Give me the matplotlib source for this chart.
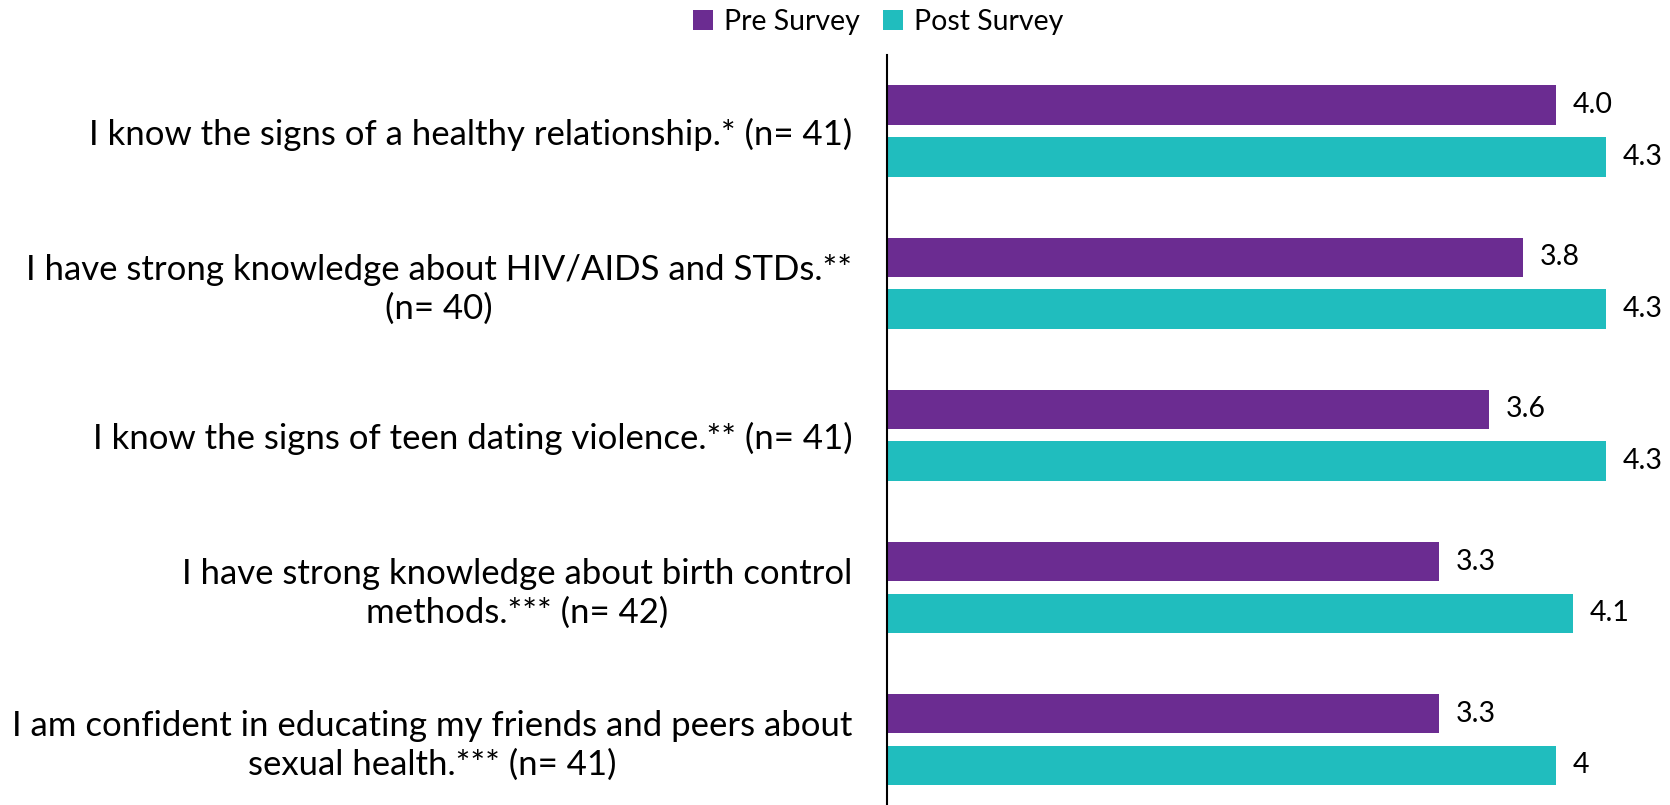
import matplotlib.pyplot as plt
import numpy as np

plt.rcParams['font.family'] = ['Lato', 'DejaVu Sans']

questions = [
    "I know the signs of a healthy relationship.* (n= 41)",
    "I have strong knowledge about HIV/AIDS and STDs.**\n(n= 40)",
    "I know the signs of teen dating violence.** (n= 41)",
    "I have strong knowledge about birth control\nmethods.*** (n= 42)",
    "I am confident in educating my friends and peers about\nsexual health.*** (n= 41)",
]
pre = [4.0, 3.8, 3.6, 3.3, 3.3]
post = [4.3, 4.3, 4.3, 4.1, 4.0]
pre_labels = ["4.0", "3.8", "3.6", "3.3", "3.3"]
post_labels = ["4.3", "4.3", "4.3", "4.1", "4"]

purple = "#6B2C91"
teal = "#20BDBE"

fig = plt.figure(figsize=(16.7, 8.05), dpi=100)
ax = fig.add_axes([887 / 1670, 0, 1 - 887 / 1670, 1 - 55 / 805])

y = np.arange(len(questions))
h = 0.26
off = 0.17
b1 = ax.barh(y - off, pre, height=h, color=purple, label="Pre Survey")
b2 = ax.barh(y + off, post, height=h, color=teal, label="Post Survey")

for bars, labels in ((b1, pre_labels), (b2, post_labels)):
    for bar, lab in zip(bars, labels):
        ax.annotate(lab, (bar.get_width(), bar.get_y() + bar.get_height() / 2),
                    xytext=(12, 0), textcoords="offset points",
                    ha="left", va="center", fontsize=20.5)

ax.set_xlim(0, 4.68)
ax.set_ylim(4.43, -0.5)
ax.set_yticks(y)
ax.set_yticklabels(questions, fontsize=25, multialignment="center",
                   linespacing=1.25)
ax.tick_params(axis="y", length=0, pad=25)
ax.set_xticks([])
for side in ("top", "right", "bottom"):
    ax.spines[side].set_visible(False)
ax.spines["left"].set_linewidth(1.5)

fig.legend(handles=[b1, b2], loc="center", bbox_to_anchor=(0.526, 1 - 22 / 805),
           ncol=2, frameon=False, fontsize=20.5, handlelength=0.7,
           handleheight=0.7, columnspacing=0.8, handletextpad=0.4)

fig.savefig("out.png", dpi=100)
